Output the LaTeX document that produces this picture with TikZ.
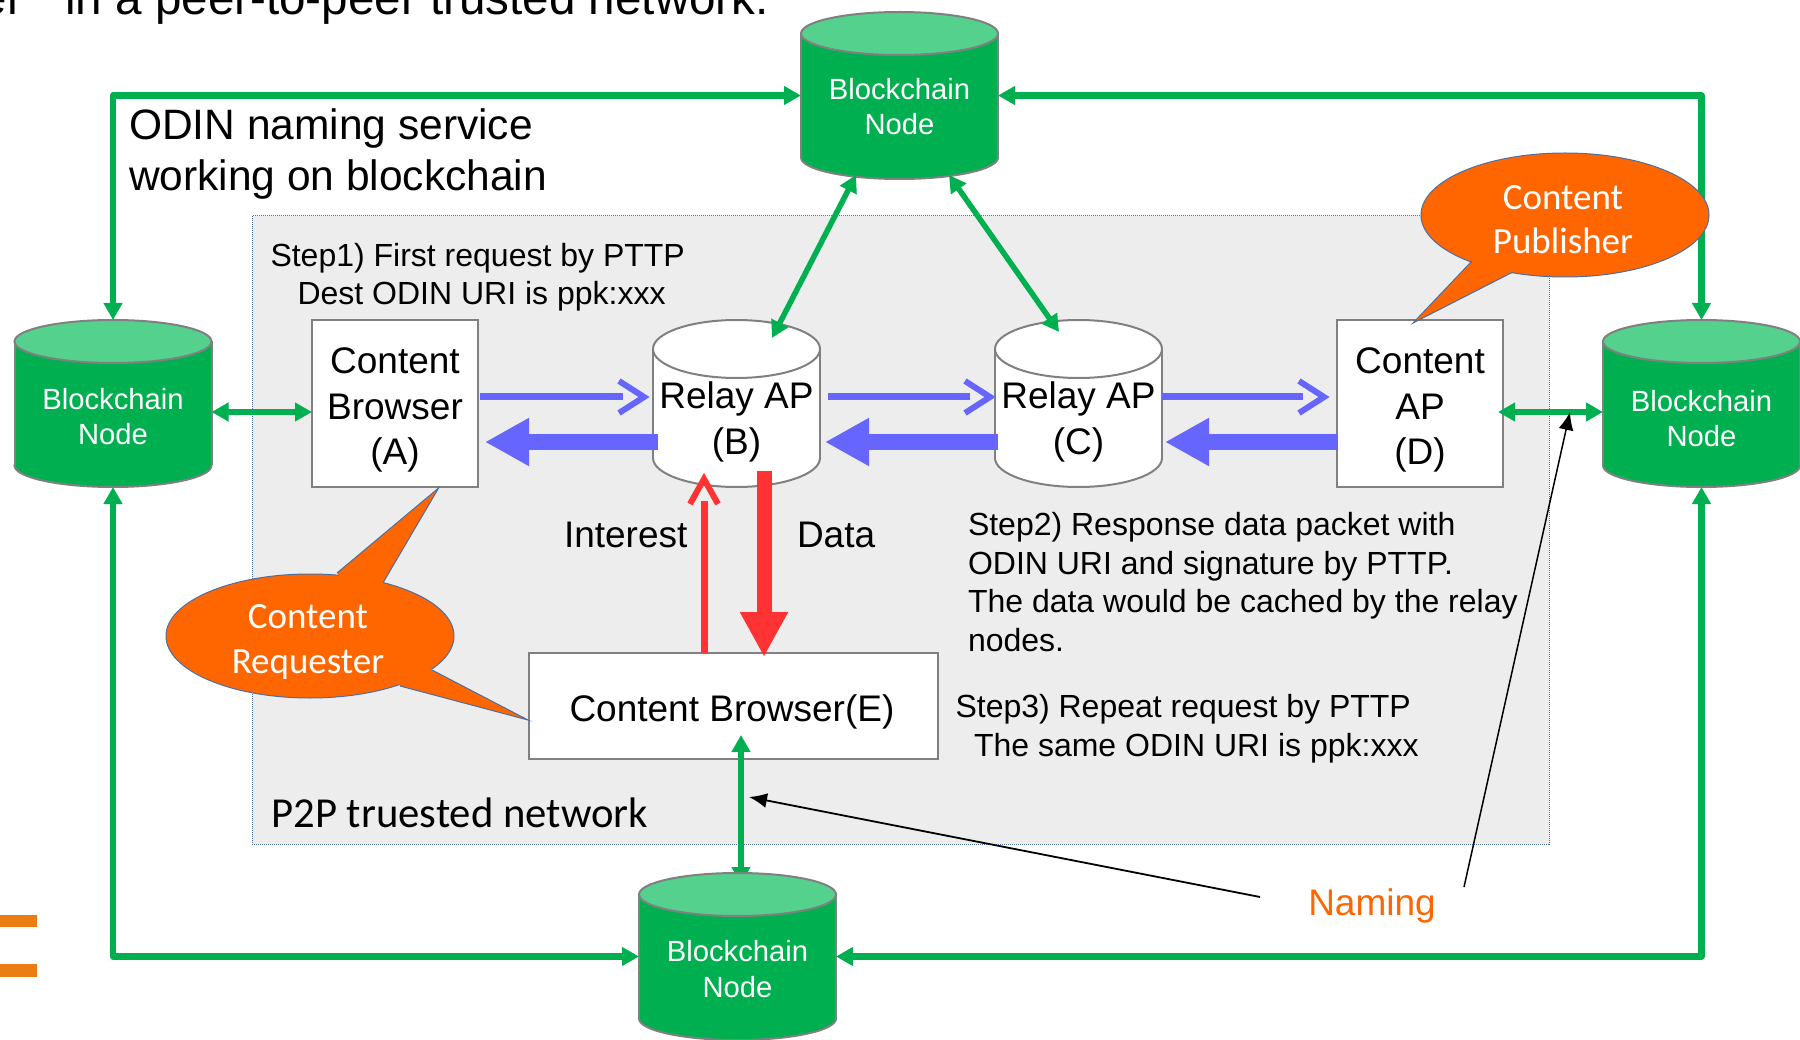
\documentclass[tikz,border=0pt]{standalone}
\usepackage{fontspec}
\setmainfont{Liberation Sans}
\newfontfamily\calibri{Carlito}
\usetikzlibrary{arrows.meta,shapes.geometric,calc}
\definecolor{gr}{HTML}{00B050}
\definecolor{grtop}{HTML}{55D18E}
\definecolor{edgegray}{HTML}{808080}
\definecolor{regionfill}{HTML}{EDEDED}
\definecolor{regionline}{HTML}{4A6FA5}
\definecolor{blu}{HTML}{6666FF}
\definecolor{rd}{HTML}{FF3333}
\definecolor{org}{HTML}{FF6600}
\definecolor{bar}{HTML}{EA7E14}
\newcommand{\fs}[2]{\fontsize{#1pt}{#2pt}\selectfont}
% name, cx, cy, width, height, end radius, body colour, top colour
\newcommand{\cyl}[8]{%
  \pgfmathsetmacro{\cxl}{#2-#4/2}\pgfmathsetmacro{\cxr}{#2+#4/2}%
  \pgfmathsetmacro{\cyt}{#3-#5/2+#6}\pgfmathsetmacro{\cyb}{#3+#5/2-#6}%
  \draw[draw=edgegray,line width=2pt,fill=#7] (#2,\cyb) ellipse [x radius=#4/2,y radius=#6];
  \fill[#7] (\cxl,\cyt) rectangle (\cxr,\cyb);
  \draw[draw=edgegray,line width=2pt] (\cxl,\cyt) -- (\cxl,\cyb) (\cxr,\cyt) -- (\cxr,\cyb);
  \draw[draw=edgegray,line width=2pt,fill=#8] (#2,\cyt) ellipse [x radius=#4/2,y radius=#6];
  \node[rectangle,minimum width=#4 pt,minimum height=#5 pt] (#1) at (#2,#3) {};
}
\tikzset{
  x=1pt,y=-1pt,
  every node/.style={inner sep=0pt,outer sep=0pt},
  boxnode/.style={rectangle,draw=edgegray,line width=2pt,fill=white,minimum width=166pt,minimum height=167pt},
  chainlabel/.style={text=white,align=center,anchor=base,font=\fs{29.2}{35.5}},
  big/.style={align=center,anchor=base,font=\fs{37}{46}},
  steptext/.style={anchor=base west,font=\fs{32}{38.5}},
  callout/.style={ellipse,fill=org,draw=regionline,line width=1pt,minimum width=288pt,minimum height=124pt},
  calloutlabel/.style={text=white,align=center,anchor=base,font=\calibri\fs{37}{44.5}},
  greenline/.style={draw=gr,line width=6.5pt,line join=round,{Triangle[length=17pt,width=18pt]}-{Triangle[length=17pt,width=18pt]}},
  greenthin/.style={draw=gr,line width=5.5pt,{Triangle[length=17pt,width=18pt]}-{Triangle[length=17pt,width=18pt]}},
  fwdshaft/.style={draw=blu,line width=7pt},
  fwdhead/.style={draw=blu,line width=6pt,miter limit=10},
  back/.style={draw=blu,line width=15.5pt,-{Triangle[length=44pt,width=45pt]}},
  nameline/.style={draw=black,line width=1.8pt,-{Latex[length=18pt,width=15pt]}},
}
\begin{document}
\begin{tikzpicture}
\useasboundingbox (0,0) rectangle (1800,1040);
% page fragments
\fill[bar] (0,915) rectangle (37,927);
\fill[bar] (0,964) rectangle (37,977);
\node[anchor=base east,font=\fs{47.6}{50}] (headline) at (769,15) {er”\ \ in a peer-to-peer trusted network.};
\node[anchor=base west,align=left,font=\fs{42.5}{51}] (title) at (129,191) {ODIN naming service\\working on blockchain};
% region
\node[rectangle,draw=regionline,densely dotted,line width=1pt,fill=regionfill,minimum width=1297pt,minimum height=628pt,anchor=north west] (region) at (252,216) {};
% boxes and stores
\node[boxnode] (A) at (395,403.5) {};
\cyl{B}{736.5}{403.5}{167}{167}{29}{white}{white}
\cyl{C}{1078.5}{403.5}{167}{167}{29}{white}{white}
\node[boxnode] (D) at (1420,403.5) {};
\node[boxnode,minimum width=409pt,minimum height=106pt] (E) at (733.5,706) {};
\cyl{nL}{113}{403.5}{197}{167}{21.5}{gr}{grtop}
\cyl{nR}{1701.5}{403.5}{197}{167}{21.5}{gr}{grtop}
\cyl{nT}{899.5}{95.5}{197}{167}{21.5}{gr}{grtop}
% green connectors
\coordinate (eTip) at (741,735);
\coordinate (eFoot) at (741,884);
\draw[greenthin] (eTip) -- (eFoot);
\cyl{nB}{737.5}{956.5}{197}{167}{21.5}{gr}{grtop}
\draw[greenline] (nL.north) |- (nT.west);
\draw[greenline] (nR.north) |- (nT.east);
\draw[greenline] (nL.south) |- (nB.west);
\draw[greenline] (nR.south) |- (nB.east);
\draw[greenthin] (nL.east |- 0,412) -- (A.west |- 0,412);
\draw[greenthin] (D.east |- 0,412) ++(-5,0) -- (nR.west |- 0,412);
\coordinate (tB) at (856,175);
\coordinate (bB) at (772,338);
\coordinate (tC) at (949,175);
\coordinate (bC) at (1059,332);
\draw[greenthin] (tB) -- (bB);
\draw[greenthin] (tC) -- (bC);
% blue forward arrows: shaft with a detached open head
\draw[fwdshaft,shorten <=2pt,shorten >=30pt] (A.east |- 0,397) -- (B.west |- 0,397);
\draw[fwdhead] (619,381) -- (644,397) -- (619,413);
\draw[fwdshaft,shorten >=25pt] (B.east |- 0,397) ++(8,0) -- (C.west |- 0,397);
\draw[fwdhead] (965,381) -- (990,397) -- (965,413);
\draw[fwdshaft,shorten >=34pt] (C.east |- 0,397) -- (D.west |- 0,397);
\draw[fwdhead] (1299,381) -- (1324,397) -- (1299,413);
% blue return arrows
\draw[back,shorten >=7pt] (B.west |- 0,442) ++(5,0) -- (A.east |- 0,442);
\draw[back,shorten >=5pt,shorten <=-3pt] (C.west |- 0,442) -- (B.east |- 0,442);
\draw[back,shorten >=3pt,shorten <=-1pt] (D.west |- 0,442) -- (C.east |- 0,442);
% red
\draw[draw=rd,line width=7pt,shorten >=28pt] (E.north -| 704,0) -- (704,473);
\draw[draw=rd,line width=6pt,miter limit=10] (690,504) -- (704,479) -- (718,504);
\draw[draw=rd,line width=15pt,-{Triangle[length=45pt,width=45pt]}] (764,471) -- (764,657);
% callouts
\node[callout] (cpub) at (1565,215) {};
\fill[org] (1480,255) -- (1472,261) -- (1413,323) -- (1513,272) -- (1515,262) -- cycle;
\draw[regionline,line width=1pt] (1472,261) -- (1413,323) -- (1513,272);
\node[calloutlabel] (cpubt) at (1563,254) {Content\\Publisher};
\node[callout] (creq) at (310,636) {};
\fill[org] (345,585) -- (337,573) -- (438.6,488) -- (383.5,582) -- (380,592) -- cycle;
\draw[regionline,line width=1pt] (337,573) -- (438.6,488) -- (383.5,582);
\fill[org] (425,660) -- (432,670) -- (528,720) -- (400,686) -- (395,675) -- cycle;
\draw[regionline,line width=1pt] (432,670) -- (528,720) -- (400,686);
\node[calloutlabel] (creqt) at (308,673) {Content\\Requester};
% labels
\node[big] (At) at (395,465) {Content\\Browser\\(A)};
\node[big] (Bt) at (736.5,455) {Relay AP\\(B)};
\node[big] (Ct) at (1078.5,455) {Relay AP\\(C)};
\node[big] (Dt) at (1420,465) {Content\\AP\\(D)};
\node[big,anchor=base west] (Et) at (569.5,721) {Content Browser(E)};
\node[chainlabel] (nLt) at (113,445) {Blockchain\\Node};
\node[chainlabel] (nRt) at (1701.5,447) {Blockchain\\Node};
\node[chainlabel] (nTt) at (899.5,135) {Blockchain\\Node};
\node[chainlabel] (nBt) at (737.5,997) {Blockchain\\Node};
\node[big,anchor=base west] (intr) at (564,547) {Interest};
\node[big,anchor=base west] (dat) at (797,547) {Data};
\node[steptext] (s1a) at (270.5,267) {Step1) First request by PTTP};
\node[steptext] (s1b) at (297.5,305) {Dest ODIN URI is ppk:xxx};
\node[steptext,align=left] (s2) at (968,651) {Step2) Response data packet with\\ODIN URI and signature by PTTP.\\The data would be cached by the relay\\nodes.};
\node[steptext] (s3a) at (955.5,717) {Step3) Repeat request by PTTP};
\node[steptext] (s3b) at (974,756) {The same ODIN URI is ppk:xxx};
\node[anchor=base west,font=\calibri\fs{42.7}{44}] (p2p) at (271.5,827) {P2P truested network};
\node[anchor=base,text=org,font=\fs{37}{44}] (naming) at (1372,915) {Naming};
\coordinate (nameA) at (1260,897);
\coordinate (nameB) at (1464,887);
\coordinate (tipA) at (749,797);
\coordinate (tipB) at (1570,412);
\draw[nameline] (nameA) -- (tipA);
\draw[nameline,line width=1.5pt] (nameB) -- (tipB);
\end{tikzpicture}
\end{document}
